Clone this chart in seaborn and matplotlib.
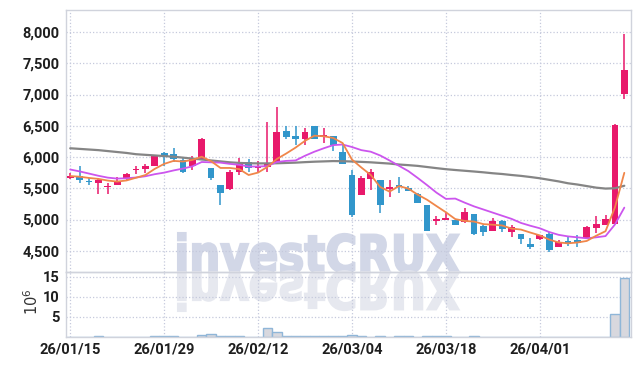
import matplotlib
matplotlib.use("Agg")
import matplotlib.pyplot as plt
import seaborn as sns
import numpy as np
from matplotlib.textpath import TextPath
from matplotlib.patches import PathPatch
from matplotlib.transforms import Affine2D, IdentityTransform
from matplotlib.font_manager import FontProperties

# daily candles (60 sessions)
opens = [5670, 5690, 5620, 5590, 5515, 5550, 5645, 5785, 5805, 5860,
         6070, 6045, 5960, 5860, 5955, 5820, 5550, 5490, 5765, 5920,
         5830, 5845, 5925, 6415, 6335, 6295, 6495, 6325, 6335, 6080,
         5710, 5395, 5650, 5625, 5485, 5550, 5505, 5405, 5225, 4970,
         4995, 4990, 4955, 5085, 4900, 4820, 4980, 4805, 4765, 4605,
         4690, 4765, 4565, 4655, 4670, 4700, 4860, 4915, 4930, 7010]
highs = [5750, 5855, 5660, 5660, 5580, 5675, 5750, 5855, 5890, 6040,
         6080, 6140, 6005, 6020, 6305, 5830, 5560, 5795, 5980, 5965,
         5940, 6555, 6795, 6495, 6495, 6460, 6500, 6470, 6340, 6210,
         5790, 5700, 5805, 5640, 5630, 5675, 5535, 5420, 5240, 5055,
         5110, 5000, 5180, 5095, 4910, 5020, 4990, 4910, 4775, 4700,
         4760, 4805, 4675, 4715, 4750, 4900, 5060, 5070, 6525, 7970]
lows = [5650, 5590, 5550, 5410, 5410, 5545, 5630, 5730, 5740, 5850,
        5860, 5925, 5740, 5800, 5950, 5630, 5240, 5480, 5710, 5765,
        5755, 5755, 5920, 6285, 6190, 6190, 6290, 6220, 6095, 5885,
        5040, 5390, 5470, 5100, 5355, 5420, 5455, 5265, 4810, 4910,
        4990, 4905, 4950, 4760, 4735, 4815, 4805, 4715, 4610, 4530,
        4680, 4475, 4560, 4580, 4555, 4695, 4780, 4910, 4925, 6930]
closes = [5700, 5640, 5600, 5640, 5535, 5620, 5730, 5815, 5855, 6030,
          6020, 5970, 5765, 5980, 6290, 5660, 5430, 5765, 5885, 5820,
          5855, 5885, 6395, 6325, 6295, 6395, 6295, 6350, 6190, 5890,
          5070, 5660, 5755, 5230, 5515, 5515, 5460, 5270, 4820, 5010,
          5020, 4915, 5120, 4770, 4805, 4975, 4850, 4875, 4690, 4565,
          4750, 4515, 4645, 4620, 4630, 4875, 4930, 5010, 6520, 7400]

ma_short = [5695, 5685, 5665, 5650, 5623, 5607, 5625, 5668, 5711, 5810,
            5890, 5938, 5928, 5953, 6005, 5933, 5825, 5825, 5806, 5712,
            5751, 5842, 5968, 6056, 6151, 6259, 6341, 6332, 6305, 6224,
            5959, 5832, 5713, 5521, 5446, 5535, 5495, 5398, 5316, 5215,
            5116, 5007, 4977, 4967, 4926, 4917, 4904, 4855, 4839, 4791,
            4746, 4679, 4633, 4619, 4632, 4657, 4740, 4813, 5193, 5747]
ma_mid = [5800, 5770, 5735, 5700, 5670, 5655, 5660, 5672, 5692, 5725,
          5750, 5785, 5815, 5850, 5920, 5915, 5910, 5890, 5875, 5848,
          5848, 5855, 5920, 5938, 5945, 6020, 6085, 6140, 6190, 6200,
          6160, 6110, 6085, 6025, 5945, 5860, 5775, 5665, 5550, 5430,
          5330, 5335, 5270, 5210, 5160, 5110, 5060, 5010, 4945, 4900,
          4860, 4800, 4755, 4730, 4715, 4700, 4715, 4735, 4920, 5190]
ma_long = [6140, 6130, 6120, 6110, 6095, 6080, 6065, 6045, 6035, 6025,
           6015, 6005, 5990, 5975, 5960, 5945, 5930, 5915, 5905, 5900,
           5898, 5898, 5900, 5905, 5910, 5918, 5925, 5930, 5935, 5933,
           5928, 5922, 5915, 5905, 5895, 5880, 5870, 5858, 5840, 5822,
           5805, 5792, 5780, 5768, 5755, 5740, 5728, 5712, 5698, 5680,
           5660, 5635, 5610, 5580, 5560, 5535, 5510, 5495, 5500, 5540]

# volume in millions
volume = [0, 0, 0, 0.2, 0, 0, 0, 0, 0, 0.2,
          0.2, 0.2, 0, 0, 0.6, 0.75, 0.25, 0.25, 0.25, 0,
          0, 2.35, 1.25, 0.2, 0.2, 0.2, 0.2, 0.2, 0.2, 0.2,
          0.4, 0.2, 0, 0.15, 0, 0.15, 0.15, 0.1, 0.35, 0.2,
          0.2, 0, 0, 0.25, 0, 0, 0, 0, 0, 0,
          0, 0, 0, 0, 0, 0, 0, 0, 5.85, 14.6]

date_pos = [0, 10, 20, 30, 40, 50]
date_labels = ["26/01/15", "26/01/29", "26/02/12", "26/03/04", "26/03/18", "26/04/01"]
price_ticks = [4500, 5000, 5500, 6000, 6500, 7000, 7500, 8000]
vol_ticks = [5, 10, 15]

UP = "#e8196b"
DOWN = "#3196cb"
GRID = "#c5c9dc"
SPINE = "#d0d3dc"

sns.set_style("white")
plt.rcParams["font.family"] = ["Roboto", "DejaVu Sans"]

fig = plt.figure(figsize=(6.39, 3.66), dpi=100)
ax = fig.add_axes([0.104, 0.2568, 0.8833, 0.7172])
axv = fig.add_axes([0.104, 0.0792, 0.8833, 0.1776], sharex=ax)
for a in (ax, axv):
    a.set_zorder(1)
    a.set_facecolor("none")

x = np.arange(len(closes))
o = np.array(opens)
c = np.array(closes)
colors = [UP if cc >= oo else DOWN for oo, cc in zip(o, c)]

# candles
ax.vlines(x, lows, highs, colors=colors, linewidth=1.1, zorder=2)
ax.bar(x, np.abs(c - o), bottom=np.minimum(o, c), width=0.72,
       color=colors, linewidth=0, zorder=3)

# moving averages
sns.lineplot(x=x, y=ma_long, ax=ax, color="#858585", linewidth=1.6, zorder=4)
sns.lineplot(x=x, y=ma_mid, ax=ax, color="#cc55ee", linewidth=1.3, zorder=4)
sns.lineplot(x=x, y=ma_short, ax=ax, color="#f0864a", linewidth=1.3, zorder=5)

ax.set_xlim(-0.4, 59.7)
ax.set_ylim(4160, 8360)
ax.set_yticks(price_ticks)
ax.set_yticklabels([f"{v:,}" for v in price_ticks])
ax.tick_params(axis="x", labelbottom=False, length=0)
ax.tick_params(axis="y", length=0, pad=5, labelsize=10.5, colors="#1e1e1e")

# volume
axv.bar(x, volume, width=1.0, color="#d8d8de", edgecolor="#8fb6d8",
        linewidth=1.0, zorder=2)
axv.set_ylim(0, 16.2)
axv.set_yticks(vol_ticks)
axv.set_xticks(date_pos)
axv.set_xticklabels(date_labels)
axv.tick_params(length=0, labelsize=10.5, colors="#1e1e1e")
axv.tick_params(axis="y", pad=5)
axv.tick_params(axis="x", pad=4)

for a in (ax, axv):
    a.grid(True, linestyle=":", color=GRID, linewidth=0.9)
    a.set_axisbelow(True)
    for s in a.spines.values():
        s.set_color(SPINE)
        s.set_linewidth(1.0)
    a.set_xlabel("")
    a.set_ylabel("")
    for lab in a.get_xticklabels() + a.get_yticklabels():
        lab.set_fontweight("bold")

fig.text(0.050, 0.175, r"$10^6$", rotation=90, ha="center", va="center",
         fontsize=10.5, color="#333333")

# watermark with reflection
tp = TextPath((0, 0), "investCRUX", size=1,
              prop=FontProperties(family="DejaVu Sans", weight="bold"))
ext = tp.get_extents()
sx = 281 / ext.width
sy = 39 / ext.y1
base = 366 - 272
tr = Affine2D().translate(-ext.x0, 0).scale(sx, sy).translate(178, base)
fig.patches.append(PathPatch(tr.transform_path(tp), facecolor="#d2d7e7",
                             edgecolor="#d2d7e7", linewidth=1.5,
                             transform=IdentityTransform(), zorder=0.5, figure=fig))
tr2 = Affine2D().translate(-ext.x0, 0).scale(sx, -sy).translate(178, base)
fig.patches.append(PathPatch(tr2.transform_path(tp), facecolor="#e6e8ef",
                             edgecolor="#e6e8ef", linewidth=1.5,
                             transform=IdentityTransform(), zorder=0.5, figure=fig))

fig.savefig("out.png", dpi=100, facecolor="white")
